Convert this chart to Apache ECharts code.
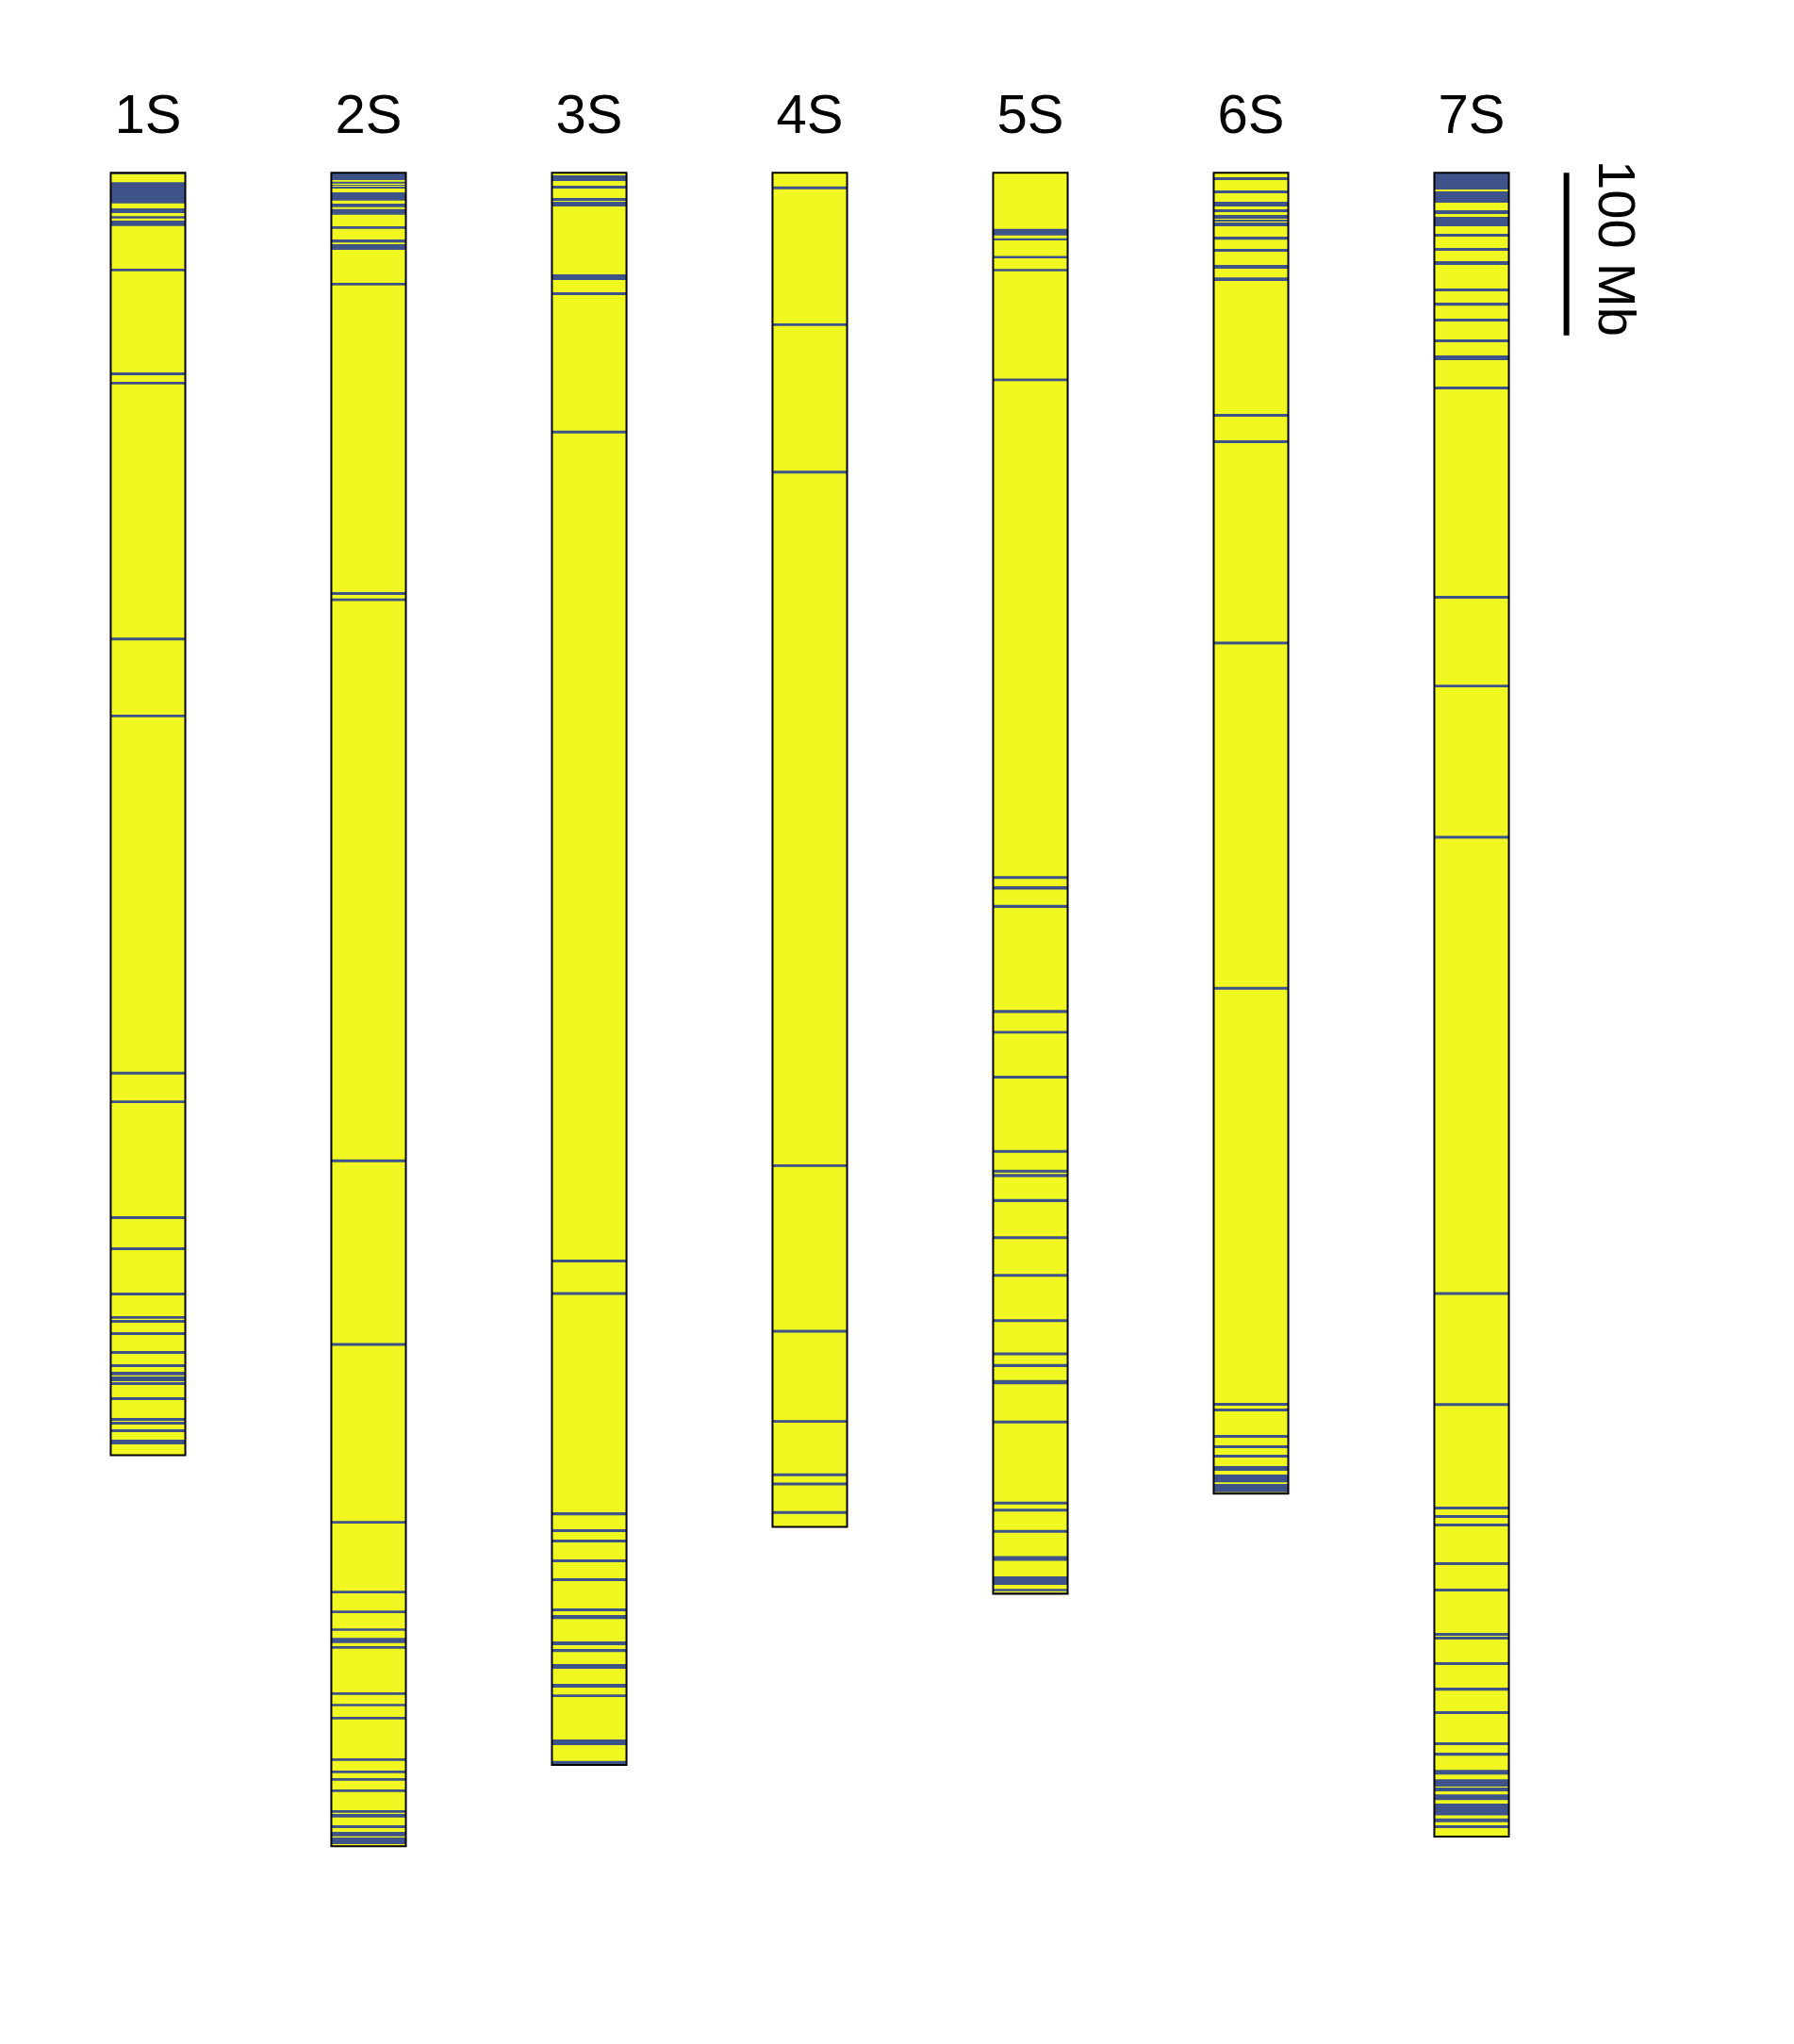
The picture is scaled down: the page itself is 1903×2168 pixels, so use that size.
<!DOCTYPE html>
<html><head><meta charset="utf-8">
<script src="https://cdn.jsdelivr.net/npm/echarts@6/dist/echarts.min.js"></script>
<style>html,body{margin:0;padding:0;background:#fff}#c{width:1903px;height:2168px}</style>
</head><body><div id="c"></div>
<script>
// ---- data (Mb) ----
const chromosomes = ['1S', '2S', '3S', '4S', '5S', '6S', '7S'];
const lengthsMb = [789, 1029.5, 979.5, 833, 874.3, 812.6, 1023.6];

const bands1S = [[0,0.8],[5.8,18.8],[21.9,24.8],[26.7,28.1],[29.4,32.7],[59.0,60.6],[122.8,124.5],[128.6,130.2],[286,287.7],[333.3,335],[553.1,554.8],[570.7,572.4],[641.9,643.7],[661.1,662.8],[688.9,690.7],[703.4,705.0],[705.7,707.5],[713.3,715.0],[724.9,726.6],[733.0,734.8],[737.7,739.8],[740.5,743.4],[744.0,745.7],[753.3,755.0],[766.1,767.8],[768.4,770.1],[773.0,774.8],[779.4,782.3]];
const bands2S = [[0,4.5],[5.5,6.6],[7.4,7.9],[8.5,9.7],[12.0,17.1],[19.0,21.1],[22.3,25.8],[32.9,34.5],[41.0,42.9],[43.9,47.4],[67.7,69.3],[258,259.7],[261.8,263.5],[607,608.7],[720,721.7],[829.5,831.0],[872.4,874.0],[884.6,886.2],[895.5,897.0],[901.3,904.6],[906.5,908.0],[934.9,936.4],[941.9,943.4],[950.0,951.5],[975.5,977.0],[983.0,984.6],[987.7,989.2],[994.6,996.2],[1007.4,1008.9],[1009.7,1011.8],[1016.6,1018.4],[1020.7,1023.4],[1024.2,1028.2]];
const bands3S = [[1.6,5.0],[7.9,9.7],[15.5,17.2],[17.8,20.7],[62.5,66.0],[73.5,75.2],[158.6,160.3],[668.6,670.3],[688.7,690.4],[824.1,825.9],[834.5,836.3],[840.9,842.6],[853.1,854.8],[864.7,866.4],[883.3,885.0],[887.3,889.7],[903.6,905.9],[908.2,910.0],[917.5,920.4],[929.7,932.0],[936.1,937.8],[963.9,967.4],[977.0,979.5]];
const bands4S = [[8.4,10.1],[92.6,94.3],[183.3,185],[610,611.7],[711.9,713.6],[767.3,769],[800.2,801.9],[805.8,807.5],[823.4,825.1]];
const bands5S = [[34.5,38.5],[40.3,41.6],[51.2,52.6],[59.2,60.6],[126.5,128.2],[432.7,434.4],[438.9,440.9],[450.4,452.2],[515.1,516.9],[527.9,529.6],[555.5,557.2],[601.2,603.0],[613.4,615.1],[616.0,617.8],[631.4,633.2],[654.3,656.0],[677.4,679.2],[705.3,707.1],[725.8,727.5],[732.9,734.7],[742.7,745.4],[767.6,769.4],[817.5,819.3],[821.9,823.7],[835.0,836.7],[851.0,853.9],[863.5,868.8],[871.2,872.6],[873.5,874.3]];
const bands6S = [[2.7,4.5],[10.8,12.6],[17.8,20.7],[22.4,24.2],[25.9,28.2],[28.8,30.0],[30.6,32.9],[39.3,41.1],[46.8,48.6],[56.7,59.0],[64.3,66.6],[148.3,150.1],[164.6,166.3],[288.4,290.1],[500.9,502.6],[756.8,758.5],[760.3,762.0],[776.5,778.3],[782.9,784.6],[788.7,790.5],[795.7,798.6],[800.9,805.6],[806.7,811.8]];
const bands7S = [[0,10.3],[11.4,18.4],[23.0,25.3],[27.1,32.9],[37.5,39.3],[46.2,48.0],[54.4,56.7],[71.2,72.9],[79.9,81.7],[89.8,91.5],[102.5,104.3],[112.4,115.3],[131.5,133.3],[260.3,262],[314.9,316.6],[407.9,409.6],[688.6,690.3],[756.9,758.6],[820.6,822.3],[825.8,827.6],[831.0,832.8],[854.8,856.6],[871.1,872.8],[898.3,900.1],[900.7,902.4],[916.3,918.1],[932.0,933.8],[946.5,948.2],[965.6,967.4],[972.0,973.8],[982.5,985.4],[988.3,992.9],[993.4,995.7],[997.7,1001.2],[1003.3,1010.6],[1012.5,1014.8],[1016.6,1018.4]];

const scaleBarMb = 100;
const scaleBarLabel = '100 Mb';
const scaleBarX = 7.43;

// ---- build ----
const YELLOW = '#F1F821';
const BLUE = '#3E5389';
const FONT = '58px "Liberation Sans", Arial, sans-serif';
const FONT_SCALE = '56px "Liberation Sans", Arial, sans-serif';
const HALF = 0.169;

const bandsByChrom = [bands1S, bands2S, bands3S, bands4S, bands5S, bands6S, bands7S];
const chromData = chromosomes.map((n, i) => [i + 1, lengthsMb[i], n]);
const bandData = [];
bandsByChrom.forEach((list, i) => list.forEach(b => bandData.push([i + 1, b[0], b[1]])));

function rectFor(api, x, a, b) {
  const p0 = api.coord([x - HALF, a]);
  const p1 = api.coord([x + HALF, b]);
  return { x: p0[0], y: p0[1], width: p1[0] - p0[0], height: p1[1] - p0[1] };
}

const chart = echarts.init(document.getElementById('c'), null, { renderer: 'canvas' });
chart.setOption({
  animation: false,
  backgroundColor: '#ffffff',
  grid: { left: 40, right: 108, top: 183.3, height: 1896.4 },
  xAxis: { type: 'value', min: 0.5, max: 8, show: false },
  yAxis: { type: 'value', min: 0, max: 1100, inverse: true, show: false },
  series: [
    {
      type: 'custom', z: 2, data: chromData,
      renderItem: (params, api) => ({
        type: 'rect', shape: rectFor(api, api.value(0), 0, api.value(1)),
        style: { fill: YELLOW }
      })
    },
    {
      type: 'custom', z: 3, data: bandData,
      renderItem: (params, api) => ({
        type: 'rect', shape: rectFor(api, api.value(0), api.value(1), api.value(2)),
        style: { fill: BLUE }
      })
    },
    {
      type: 'custom', z: 4, data: chromData,
      renderItem: (params, api) => {
        const x = api.value(0);
        const top = api.coord([x, 0]);
        return {
          type: 'group',
          children: [
            { type: 'rect', shape: rectFor(api, x, 0, api.value(1)),
              style: { fill: 'none', stroke: '#000', lineWidth: 2 } },
            { type: 'text', x: top[0], y: top[1] - 58,
              style: { text: chromosomes[params.dataIndex], font: FONT, fill: '#000',
                       align: 'center', verticalAlign: 'middle',
                       textAlign: 'center', textVerticalAlign: 'middle' } }
          ]
        };
      }
    },
    {
      type: 'custom', z: 4, data: [[scaleBarX, 0, scaleBarMb]],
      renderItem: (params, api) => {
        const p0 = api.coord([api.value(0), api.value(1)]);
        const p1 = api.coord([api.value(0), api.value(2)]);
        return {
          type: 'group',
          children: [
            { type: 'line', shape: { x1: p0[0], y1: p0[1], x2: p1[0], y2: p1[1] },
              style: { stroke: '#000', lineWidth: 6 } },
            { type: 'text', x: p0[0] + 50, y: (p0[1] + p1[1]) / 2 - 6, rotation: -Math.PI / 2,
              style: { text: scaleBarLabel, font: FONT_SCALE, fill: '#000',
                       align: 'center', verticalAlign: 'middle',
                       textAlign: 'center', textVerticalAlign: 'middle' } }
          ]
        };
      }
    }
  ]
});
</script>
</body></html>
